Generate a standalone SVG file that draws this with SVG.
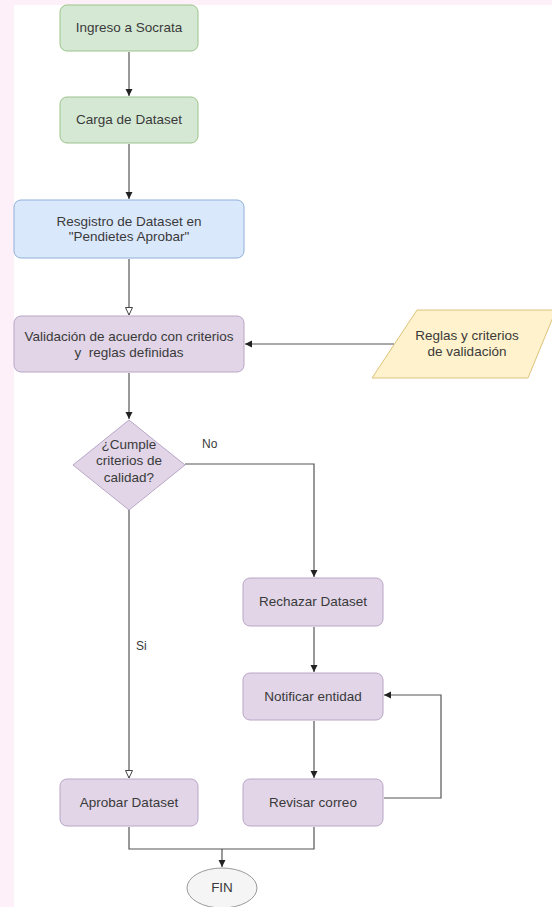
<svg xmlns="http://www.w3.org/2000/svg" width="552" height="907" viewBox="0 0 552 907">
<style>
text{font-family:"Liberation Sans",Arial,sans-serif;font-size:13.5px;fill:#3a3a3a;text-anchor:middle}
.g{fill:#d5e8d4;stroke:#9cc38a;stroke-width:1}
.b{fill:#dae8fc;stroke:#8fb0d8;stroke-width:1}
.p{fill:#e1d5e7;stroke:#b9a6c6;stroke-width:1}
.y{fill:#fff2cc;stroke:#dcc27a;stroke-width:1}
.e{fill:#f5f5f5;stroke:#999;stroke-width:1}
.c{fill:none;stroke:#555;stroke-width:1.2}
.lbl{text-anchor:start;font-size:12px}
</style>
<defs>
<marker id="af" markerWidth="8" markerHeight="8" refX="7" refY="4" orient="auto" markerUnits="userSpaceOnUse"><path d="M0,0.5 L7,4 L0,7.5 Z" fill="#222"/></marker>
<marker id="ao" markerWidth="10" markerHeight="10" refX="8" refY="4" orient="auto" markerUnits="userSpaceOnUse"><path d="M0.5,0.5 L8,4 L0.5,7.5 Z" fill="#fff" stroke="#444" stroke-width="1"/></marker>
</defs>
<rect width="552" height="907" fill="#fff"/>
<rect x="0" y="0" width="552" height="5" fill="#fdf0f8"/>
<rect x="0" y="0" width="14" height="907" fill="#fdf0f8"/>
<g id="connectors">
<path class="c" d="M129,52 V96" marker-end="url(#af)"/>
<path class="c" d="M129,144 V199" marker-end="url(#af)"/>
<path class="c" d="M129,259 V315" marker-end="url(#ao)"/>
<path class="c" d="M129,373 V419" marker-end="url(#af)"/>
<path class="c" d="M394,344 H245" marker-end="url(#af)"/>
<path class="c" d="M185,464 H314 V577" marker-end="url(#af)"/>
<path class="c" d="M129,510 V778" marker-end="url(#ao)"/>
<path class="c" d="M314,627 V672" marker-end="url(#af)"/>
<path class="c" d="M314,721 V778" marker-end="url(#af)"/>
<path class="c" d="M384,798 H441 V695 H384" marker-end="url(#af)"/>
<path class="c" d="M129,827 V849 H314 V827"/>
<path class="c" d="M222,849 V867" marker-end="url(#af)"/>
<text class="lbl" x="202" y="448">No</text>
<text class="lbl" x="136" y="650">Si</text>
</g>
<g id="ingreso"><rect class="g" x="60" y="5" width="138" height="46" rx="7"/><text x="129" y="32">Ingreso a Socrata</text></g>
<g id="carga"><rect class="g" x="60" y="97" width="138" height="46" rx="7"/><text x="129" y="124">Carga de Dataset</text></g>
<g id="registro"><rect class="b" x="14" y="200" width="230" height="58" rx="7"/><text x="129" y="226">Resgistro de Dataset en</text><text x="129" y="241">"Pendietes Aprobar"</text></g>
<g id="validacion"><rect class="p" x="14" y="316" width="230" height="56" rx="7"/><text x="129" y="341">Validación de acuerdo con criterios</text><text x="129" y="357">y&#160; reglas definidas</text></g>
<g id="reglas"><path class="y" d="M417,310 H556 L528,378 H372 Z"/><text x="467" y="340">Reglas y criterios</text><text x="467" y="356">de validación</text></g>
<g id="cumple"><path class="p" d="M129,420 L185,465 L129,510 L73,465 Z"/><text x="129" y="449">¿Cumple</text><text x="129" y="465">criterios de</text><text x="129" y="482">calidad?</text></g>
<g id="rechazar"><rect class="p" x="243" y="578" width="140" height="48" rx="7"/><text x="313" y="606">Rechazar Dataset</text></g>
<g id="notificar"><rect class="p" x="243" y="673" width="140" height="47" rx="7"/><text x="313" y="701">Notificar entidad</text></g>
<g id="revisar"><rect class="p" x="243" y="779" width="140" height="47" rx="7"/><text x="313" y="807">Revisar correo</text></g>
<g id="aprobar"><rect class="p" x="60" y="779" width="138" height="47" rx="7"/><text x="129" y="807">Aprobar Dataset</text></g>
<g id="fin"><ellipse class="e" cx="222" cy="888" rx="35" ry="20"/><text x="222" y="892">FIN</text></g>
</svg>
